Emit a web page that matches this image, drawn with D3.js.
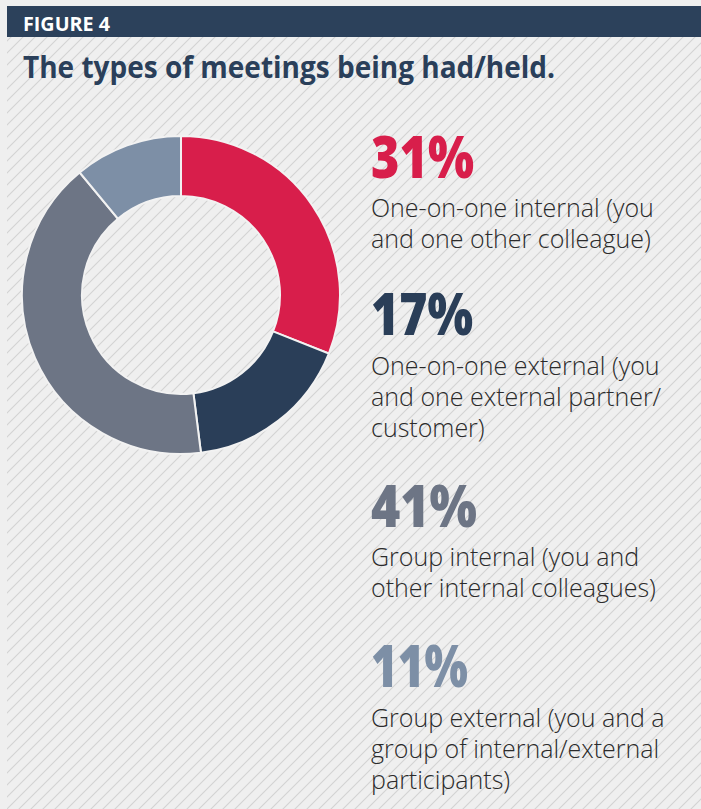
<!DOCTYPE html>
<html>
<head>
<meta charset="utf-8">
<script src="https://cdn.jsdelivr.net/npm/d3@7"></script>
<style>
  html, body { margin: 0; padding: 0; background: #efefef; }
  svg { display: block; }
</style>
</head>
<body>
<div id="chart"></div>
<script>
// data
var categories = [
  ["One-on-one internal (you", "and one other colleague)"],
  ["One-on-one external (you", "and one external partner/", "customer)"],
  ["Group internal (you and", "other internal colleagues)"],
  ["Group external (you and a", "group of internal/external", "participants)"]
];
var shares = [31, 17, 41, 11];
var shareLabels = ["31%", "17%", "41%", "11%"];
var colors = ["#d81e4b", "#2a3e58", "#6d7585", "#7d8fa6"];

var width = 701, height = 809;
var cx = 181, cy = 295, rOuter = 159, rInner = 99;

// layout of the text blocks on the right
var pctY = [178, 335, 527, 687];
var descGap = [39, 40, 39, 40];
var pctW = [103, 102, 106, 97];
var lineH = 31;
var textX = 371;

var svg = d3.select("#chart").append("svg")
    .attr("width", width)
    .attr("height", height);

var defs = svg.append("defs");
var pat = defs.append("pattern")
    .attr("id", "hatch")
    .attr("patternUnits", "userSpaceOnUse")
    .attr("width", 12)
    .attr("height", 12);
pat.append("rect").attr("width", 12).attr("height", 12).attr("fill", "#efefef");
pat.append("path")
    .attr("d", "M-3,3 L3,-3 M0,12 L12,0 M9,15 L15,9")
    .attr("stroke", "#d3d3d3")
    .attr("stroke-width", 1.1);

// panel
svg.append("rect")
    .attr("x", 7).attr("y", 6)
    .attr("width", width - 7).attr("height", height - 6)
    .attr("fill", "url(#hatch)");

// header bar
svg.append("rect")
    .attr("x", 7).attr("y", 6)
    .attr("width", width - 7).attr("height", 31)
    .attr("fill", "#2c415b");
svg.append("text")
    .attr("x", 23).attr("y", 31)
    .attr("fill", "#fff")
    .style("font-family", "'Open Sans', sans-serif")
    .style("font-weight", 700)
    .style("font-size", "19px")
    .attr("textLength", 87)
    .attr("lengthAdjust", "spacingAndGlyphs")
    .text("FIGURE 4");

// title
svg.append("text")
    .attr("x", 23).attr("y", 78)
    .attr("fill", "#2a3f5a")
    .style("font-family", "'Open Sans', sans-serif")
    .style("font-weight", 700)
    .style("font-size", "30px")
    .attr("textLength", 532)
    .attr("lengthAdjust", "spacingAndGlyphs")
    .text("The types of meetings being had/held.");

// donut
var pie = d3.pie().sort(null).value(function(d){ return d; });
var arc = d3.arc().innerRadius(rInner).outerRadius(rOuter);

svg.append("g")
    .attr("transform", "translate(" + cx + "," + cy + ")")
  .selectAll("path")
  .data(pie(shares))
  .enter().append("path")
    .attr("d", arc)
    .attr("fill", function(d, i){ return colors[i]; })
    .attr("stroke", "#f2f2f2")
    .attr("stroke-width", 2);

// text blocks
var blocks = svg.selectAll("g.block")
    .data(shareLabels)
  .enter().append("g")
    .attr("class", "block");

blocks.append("text")
    .attr("x", textX)
    .attr("y", function(d, i){ return pctY[i]; })
    .attr("fill", function(d, i){ return colors[i]; })
    .style("font-family", "'Open Sans', sans-serif")
    .style("font-weight", 800)
    .style("font-size", "58px")
    .attr("textLength", function(d, i){ return pctW[i]; })
    .attr("lengthAdjust", "spacingAndGlyphs")
    .text(function(d){ return d; });

blocks.each(function(d, i){
  var t = d3.select(this).append("text")
      .attr("fill", "#2b2b2b")
      .style("font-family", "'Open Sans', sans-serif")
      .style("font-weight", 300)
      .style("font-size", "25px");
  t.selectAll("tspan")
    .data(categories[i])
    .enter().append("tspan")
      .attr("x", textX)
      .attr("y", function(l, j){ return pctY[i] + descGap[i] + j * lineH; })
      .text(function(l){ return l; });
});
</script>
</body>
</html>
